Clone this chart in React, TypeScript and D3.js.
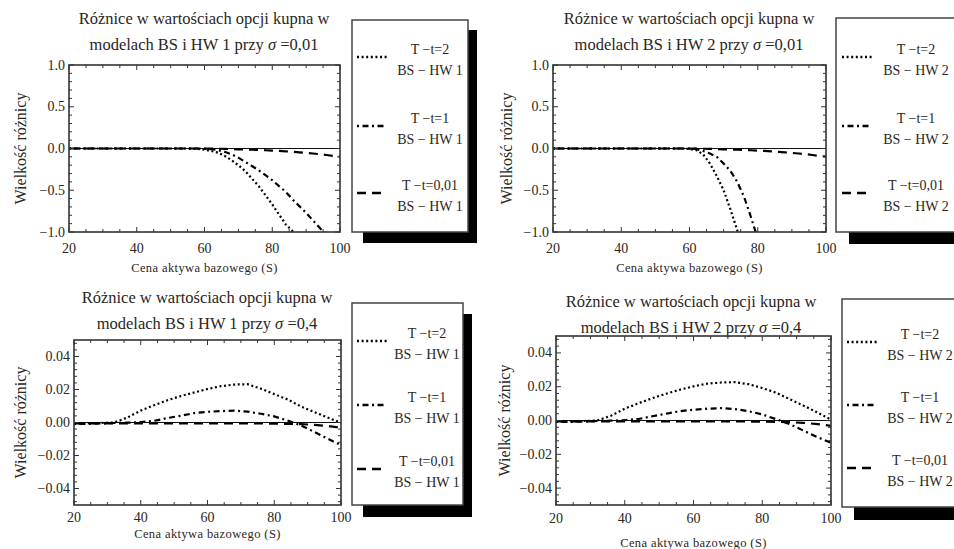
import React from "react";
import * as d3 from "d3";

// price of the underlying (S)
const S_LOW = [20, 30, 40, 50, 55, 58, 60, 62, 64, 66, 68, 70, 72, 74, 76, 78, 80, 82, 84, 86, 88, 90, 92, 94, 96, 98, 100];
const S_HIGH = [20, 24, 28, 32, 36, 40, 44, 48, 52, 56, 60, 64, 68, 72, 76, 80, 84, 88, 92, 96, 100];

// sigma = 0,01 ; null = outside the plot range
const hw1Low_T2 = [0, 0, 0, 0, 0, -0.005, -0.015, -0.03, -0.05, -0.09, -0.14, -0.2, -0.27, -0.36, -0.45, -0.56, -0.67, -0.79, -0.91, -0.99, -1.12, null, null, null, null, null, null];
const hw1Low_T1 = [0, 0, 0, 0, 0, 0, -0.003, -0.008, -0.02, -0.04, -0.07, -0.11, -0.16, -0.21, -0.26, -0.32, -0.38, -0.45, -0.52, -0.61, -0.69, -0.77, -0.86, -0.95, -1.04, null, null];
const hw1Low_T001 = [0, 0, 0, 0, 0, 0, -0.001, -0.002, -0.003, -0.005, -0.007, -0.01, -0.012, -0.015, -0.018, -0.021, -0.025, -0.029, -0.034, -0.04, -0.046, -0.053, -0.06, -0.068, -0.078, -0.088, -0.098];
const hw2Low_T2 = [0, 0, 0, 0, 0, 0, -0.005, -0.02, -0.07, -0.18, -0.33, -0.5, -0.73, -0.98, -1.25, null, null, null, null, null, null, null, null, null, null, null, null];
const hw2Low_T1 = [0, 0, 0, 0, 0, 0, 0, -0.005, -0.03, -0.06, -0.1, -0.18, -0.27, -0.4, -0.58, -0.82, -1.08, null, null, null, null, null, null, null, null, null, null];
const hw2Low_T001 = [0, 0, 0, 0, 0, 0, -0.001, -0.002, -0.003, -0.005, -0.007, -0.01, -0.012, -0.015, -0.018, -0.021, -0.025, -0.029, -0.034, -0.04, -0.046, -0.053, -0.06, -0.068, -0.078, -0.088, -0.098];

// sigma = 0,4
const hw1High_T2 = [-0.0005, -0.0005, -0.0003, 0.0, 0.003, 0.0072, 0.0105, 0.0135, 0.016, 0.0182, 0.0203, 0.022, 0.023, 0.0232, 0.0205, 0.0172, 0.014, 0.0097, 0.0063, 0.003, -0.0002];
const hw1High_T1 = [-0.0008, -0.0008, -0.0006, -0.0003, -0.0001, 0.0002, 0.001, 0.0027, 0.0041, 0.0057, 0.0065, 0.0069, 0.0072, 0.0066, 0.0053, 0.0037, 0.0012, -0.0018, -0.0057, -0.0098, -0.0137];
const hw1High_T001 = [-0.0006, -0.0006, -0.0005, -0.0005, -0.0005, -0.0005, -0.0005, -0.0005, -0.0005, -0.0006, -0.0006, -0.0006, -0.0006, -0.0006, -0.0006, -0.0007, -0.0008, -0.001, -0.0014, -0.0021, -0.0032];
const hw2High_T2 = [-0.0005, -0.0005, -0.0003, 0.0, 0.0028, 0.007, 0.0102, 0.0132, 0.0158, 0.0182, 0.0202, 0.0218, 0.0225, 0.0227, 0.0215, 0.0192, 0.0165, 0.0126, 0.0088, 0.0048, 0.0005];
const hw2High_T1 = [-0.0008, -0.0008, -0.0006, -0.0003, -0.0001, 0.0002, 0.0009, 0.0025, 0.004, 0.0055, 0.0064, 0.007, 0.0073, 0.0068, 0.0055, 0.0036, 0.0008, -0.0022, -0.006, -0.0098, -0.0132];
const hw2High_T001 = [-0.0006, -0.0006, -0.0005, -0.0005, -0.0005, -0.0005, -0.0005, -0.0005, -0.0005, -0.0006, -0.0006, -0.0006, -0.0006, -0.0006, -0.0006, -0.0007, -0.0008, -0.001, -0.0014, -0.0021, -0.0032];

const xTicks = [20, 40, 60, 80, 100];
const yTicksLow = [-1, -0.5, 0, 0.5, 1];
const yTicksHigh = [-0.04, -0.02, 0, 0.02, 0.04];
const seriesNames = ["T \u2212t=2", "T \u2212t=1", "T \u2212t=0,01"];

const FONT = "'Liberation Serif', 'DejaVu Serif', serif";
const INK = "#2a2622";
const DASH = ["2 2.6", "2 3.5 6 3.5", "9 6"];

type PanelProps = {
  id: string;
  s: number[];
  series: (number | null)[][];
  model: string;
  sigma: string;
  yTicks: number[];
  yDomain: [number, number];
  yMinor: number;
  yFmt: (v: number) => string;
  plot: { x0: number; x1: number; y0: number; y1: number };
  titleX: number;
  titleY: number;
  xLabY: number;
  xTitleY: number;
  yTitleX: number;
  legend: { x: number; y: number; w: number; h: number; sx: number; sy: number; lx: number; tx: number; rows: number[] };
};

function Panel(p: PanelProps) {
  const { x0, x1, y0, y1 } = p.plot;
  const x = d3.scaleLinear().domain([20, 100]).range([x0, x1]);
  const y = d3.scaleLinear().domain(p.yDomain).range([y1, y0]);
  const minorX = d3.range(20, 100.01, 5);
  const [lo, hi] = p.yDomain;
  const minorY = d3.range(Math.ceil(lo / p.yMinor - 1e-6), Math.floor(hi / p.yMinor + 1e-6) + 1).map((k) => k * p.yMinor);
  const line = d3
    .line<number | null>()
    .defined((v) => v !== null)
    .x((_, i) => x(p.s[i]))
    .y((v) => y(v as number));
  const L = p.legend;
  return (
    <g>
      <defs>
        <clipPath id={p.id}>
          <rect x={x0} y={y0} width={x1 - x0} height={y1 - y0} />
        </clipPath>
      </defs>
      <text x={p.titleX} y={p.titleY} textAnchor="middle" fontSize={16.5} fill={INK} fontFamily={FONT}>
        Różnice w wartościach opcji kupna w
      </text>
      <text x={p.titleX} y={p.titleY + 26} textAnchor="middle" fontSize={16.5} fill={INK} fontFamily={FONT}>
        {`modelach BS i HW ${p.model} przy `}
        <tspan fontStyle="italic">σ</tspan>
        {` =${p.sigma}`}
      </text>
      {/* axes line */}
      <line x1={x0} x2={x1} y1={y(0)} y2={y(0)} stroke="#111" strokeWidth={1.2} />
      <g clipPath={`url(#${p.id})`} fill="none" stroke="#000" strokeWidth={2.2}>
        {p.series.map((vals, i) => (
          <path key={i} d={line(vals) || ""} strokeDasharray={DASH[i]} />
        ))}
      </g>
      {/* frame ticks */}
      <g stroke="#333" strokeWidth={1}>
        {minorX.map((v) => {
          const major = xTicks.includes(v);
          const len = major ? 5 : 3;
          return (
            <g key={"x" + v}>
              <line x1={x(v)} x2={x(v)} y1={y1} y2={y1 - len} />
              <line x1={x(v)} x2={x(v)} y1={y0} y2={y0 + len} />
            </g>
          );
        })}
        {minorY.map((v) => {
          const major = p.yTicks.some((t) => Math.abs(t - v) < 1e-9);
          const len = major ? 5 : 3;
          return (
            <g key={"y" + v}>
              <line x1={x0} x2={x0 + len} y1={y(v)} y2={y(v)} />
              <line x1={x1} x2={x1 - len} y1={y(v)} y2={y(v)} />
            </g>
          );
        })}
      </g>
      <rect x={x0} y={y0} width={x1 - x0} height={y1 - y0} fill="none" stroke="#333" strokeWidth={1.6} />
      <g fontFamily={FONT} fontSize={14} fill={INK}>
        {xTicks.map((v) => (
          <text key={v} x={x(v)} y={p.xLabY} textAnchor="middle" dominantBaseline="central">
            {v}
          </text>
        ))}
        {p.yTicks.map((v) => (
          <text key={v} x={x0 - 4} y={y(v)} textAnchor="end" dominantBaseline="central">
            {p.yFmt(v)}
          </text>
        ))}
      </g>
      <text x={(x0 + x1) / 2} y={p.xTitleY} textAnchor="middle" dominantBaseline="central" fontSize={12.5} letterSpacing={0.4} fill={INK} fontFamily={FONT}>
        Cena  aktywa bazowego (S)
      </text>
      <text
        transform={`translate(${p.yTitleX},${(y0 + y1) / 2}) rotate(-90)`}
        textAnchor="middle"
        dominantBaseline="central"
        fontSize={16}
        fill={INK}
        fontFamily={FONT}
      >
        Wielkość różnicy
      </text>
      {/* legend */}
      <rect x={L.sx} y={L.sy} width={L.w - 2} height={L.h + 1} fill="#000" />
      <rect x={L.x} y={L.y} width={L.w} height={L.h} fill="#fff" stroke="#444" strokeWidth={1.5} />
      {seriesNames.map((n, i) => (
        <g key={n}>
          <line x1={L.lx} x2={L.lx + 30} y1={L.rows[i]} y2={L.rows[i]} stroke="#000" strokeWidth={2.4} strokeDasharray={DASH[i]} />
          <text x={L.tx} y={L.rows[i] - 8} textAnchor="middle" dominantBaseline="central" fontSize={14} fill={INK} fontFamily={FONT}>
            {n}
          </text>
          <text x={L.tx} y={L.rows[i] + 13} textAnchor="middle" dominantBaseline="central" fontSize={14} fill={INK} fontFamily={FONT}>
            {`BS  \u2212 HW  ${p.model}`}
          </text>
        </g>
      ))}
    </g>
  );
}

const fmtLow = (v: number) => (v < 0 ? "\u2212" : "") + Math.abs(v).toFixed(1);
const fmtHigh = (v: number) => (v < 0 ? "\u2212" : "") + Math.abs(v).toFixed(2);

export default function App() {
  return (
    <svg width={954} height={549} style={{ position: "absolute", left: 0, top: 0, background: "#fff" }}>
      <Panel
        id="c1"
        s={S_LOW}
        series={[hw1Low_T2, hw1Low_T1, hw1Low_T001]}
        model="1"
        sigma="0,01"
        yTicks={yTicksLow}
        yDomain={[-1, 1]}
        yMinor={0.1}
        yFmt={fmtLow}
        plot={{ x0: 69, x1: 340, y0: 65, y1: 232 }}
        titleX={204}
        titleY={24}
        xLabY={248}
        xTitleY={268}
        yTitleX={20}
        legend={{ x: 352, y: 20, w: 116, h: 212, sx: 363, sy: 30, lx: 357, tx: 430, rows: [57, 126, 193] }}
      />
      <Panel
        id="c2"
        s={S_LOW}
        series={[hw2Low_T2, hw2Low_T1, hw2Low_T001]}
        model="2"
        sigma="0,01"
        yTicks={yTicksLow}
        yDomain={[-1, 1]}
        yMinor={0.1}
        yFmt={fmtLow}
        plot={{ x0: 553, x1: 826, y0: 65, y1: 232 }}
        titleX={689}
        titleY={24}
        xLabY={248}
        xTitleY={268}
        yTitleX={506}
        legend={{ x: 836, y: 18, w: 130, h: 214, sx: 849, sy: 29, lx: 842, tx: 916, rows: [57, 126, 193] }}
      />
      <Panel
        id="c3"
        s={S_HIGH}
        series={[hw1High_T2, hw1High_T1, hw1High_T001]}
        model="1"
        sigma="0,4"
        yTicks={yTicksHigh}
        yDomain={[-0.05, 0.05]}
        yMinor={0.004}
        yFmt={fmtHigh}
        plot={{ x0: 74, x1: 341, y0: 340, y1: 505 }}
        titleX={207}
        titleY={303}
        xLabY={517}
        xTitleY={534}
        yTitleX={20}
        legend={{ x: 352, y: 303, w: 111, h: 202, sx: 363, sy: 314, lx: 357, tx: 427, rows: [341, 405, 469] }}
      />
      <Panel
        id="c4"
        s={S_HIGH}
        series={[hw2High_T2, hw2High_T1, hw2High_T001]}
        model="2"
        sigma="0,4"
        yTicks={yTicksHigh}
        yDomain={[-0.05, 0.05]}
        yMinor={0.004}
        yFmt={fmtHigh}
        plot={{ x0: 556, x1: 831, y0: 336, y1: 505 }}
        titleX={691}
        titleY={307}
        xLabY={518}
        xTitleY={543}
        yTitleX={504}
        legend={{ x: 842, y: 299, w: 130, h: 208, sx: 854, sy: 311, lx: 847, tx: 920, rows: [342, 405, 468] }}
      />
    </svg>
  );
}
